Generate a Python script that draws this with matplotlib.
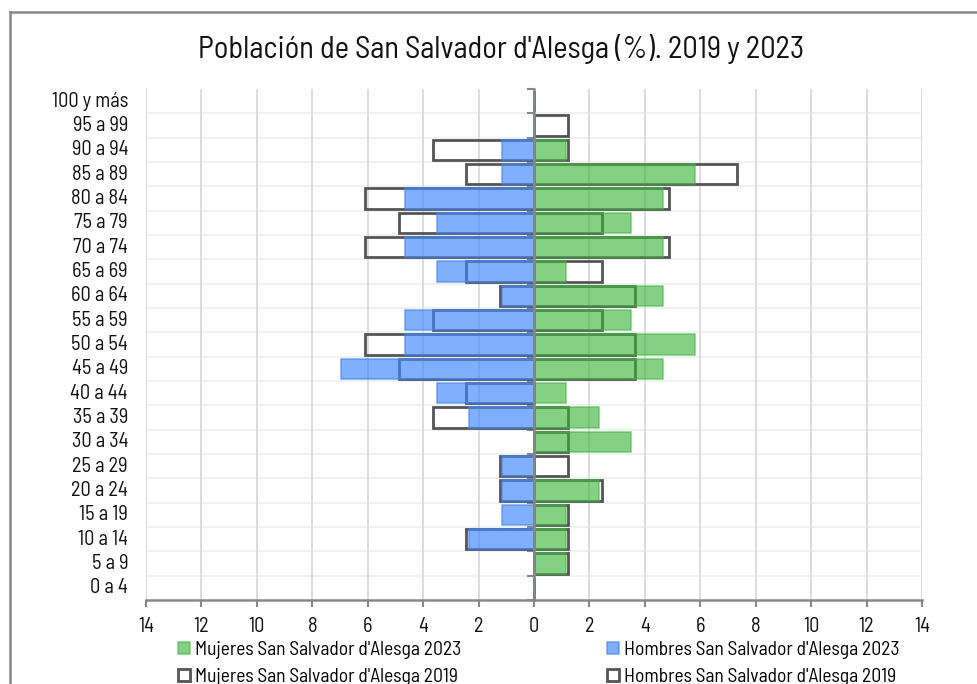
import matplotlib
matplotlib.use("Agg")
import matplotlib.pyplot as plt
from matplotlib.patches import Patch
from matplotlib.lines import Line2D
from matplotlib import font_manager as fm
from matplotlib.textpath import TextPath
import numpy as np

prefs = ['Barlow Semi Condensed', 'Ubuntu Condensed', 'Saira Semi Condensed',
         'Encode Sans Semi Condensed', 'IBM Plex Sans Condensed', 'Roboto Condensed',
         'Liberation Sans Narrow', 'DejaVu Sans']
avail = {f.name for f in fm.fontManager.ttflist}
FONT = next(p for p in prefs if p in avail)
plt.rcParams['font.family'] = [FONT, 'DejaVu Sans']

categories = ["100 y más", "95 a 99", "90 a 94", "85 a 89", "80 a 84", "75 a 79",
              "70 a 74", "65 a 69", "60 a 64", "55 a 59", "50 a 54", "45 a 49",
              "40 a 44", "35 a 39", "30 a 34", "25 a 29", "20 a 24", "15 a 19",
              "10 a 14", "5 a 9", "0 a 4"]

hombres_2023 = [0, 0, 1.16, 1.16, 4.65, 3.49, 4.65, 3.49, 1.16, 4.65, 4.65, 6.98,
                3.49, 2.33, 0, 1.16, 1.16, 1.16, 2.33, 0, 0]
mujeres_2023 = [0, 0, 1.16, 5.81, 4.65, 3.49, 4.65, 1.16, 4.65, 3.49, 5.81, 4.65,
                1.16, 2.33, 3.49, 0, 2.33, 1.16, 1.16, 1.16, 0]
hombres_2019 = [0, 0, 3.66, 2.44, 6.10, 4.88, 6.10, 2.44, 1.22, 3.66, 6.10, 4.88,
                2.44, 3.66, 0, 1.22, 1.22, 0, 2.44, 0, 0]
mujeres_2019 = [0, 1.22, 1.22, 7.32, 4.88, 2.44, 4.88, 2.44, 3.66, 2.44, 3.66, 3.66,
                0, 1.22, 1.22, 1.22, 2.44, 1.22, 1.22, 1.22, 0]

xticks = [-14, -12, -10, -8, -6, -4, -2, 0, 2, 4, 6, 8, 10, 12, 14]

title = "Población de San Salvador d'Alesga (%). 2019 y 2023"
lab_m23 = "Mujeres San Salvador d'Alesga 2023"
lab_h23 = "Hombres San Salvador d'Alesga 2023"
lab_m19 = "Mujeres San Salvador d'Alesga 2019"
lab_h19 = "Hombres San Salvador d'Alesga 2019"


def fit_size(text, target_px):
    fp = fm.FontProperties(family=[FONT, 'DejaVu Sans'])
    tp = TextPath((0, 0), text, size=10, prop=fp)
    ext = tp.get_extents()
    w_px_at10 = ext.width * 100 / 72
    return 10 * target_px / w_px_at10


title_fs = fit_size(title, 603)
cat_fs = fit_size("100 y más", 75)
leg_fs = fit_size(lab_m23, 264)
tick_fs = cat_fs

W, H = 977, 684
fig = plt.figure(figsize=(W / 100, H / 100), dpi=100)
ax = fig.add_axes([146 / W, 1 - 600 / H, 776 / W, 511 / H])

n = len(categories)
y = np.arange(n)[::-1]

blue = (0.24, 0.52, 1.0)
green = (0.20, 0.70, 0.20)
gray19 = '#555555'
bh = 0.84

ax.barh(y, [-v for v in hombres_2019], height=bh, left=0, facecolor='none',
        edgecolor=gray19, linewidth=2.0, zorder=3)
ax.barh(y, mujeres_2019, height=bh, left=0, facecolor='none',
        edgecolor=gray19, linewidth=2.0, zorder=3)
ax.barh(y, [-v for v in hombres_2023], height=bh, color=blue, alpha=0.65,
        edgecolor=blue, linewidth=1.2, zorder=4)
ax.barh(y, mujeres_2023, height=bh, color=green, alpha=0.6,
        edgecolor=(0.25, 0.72, 0.25), linewidth=1.2, zorder=4)

ax.set_xlim(-14, 14)
ax.set_ylim(-0.5, n - 0.5)

ax.set_xticks(xticks)
ax.set_xticklabels([str(abs(t)) for t in xticks], fontsize=tick_fs)
ax.tick_params(axis='x', length=5, width=1.5, color='#888888', pad=7, labelcolor='#111111')
ax.grid(axis='x', color='#dddddd', linewidth=1.4, zorder=0)

bounds = np.arange(-0.5, n, 1.0)
for b in bounds[1:-1]:
    ax.axhline(b, color='#efefef', linewidth=1.2, zorder=0)

for s in ['top', 'right']:
    ax.spines[s].set_visible(False)
ax.spines['bottom'].set_color('#888888')
ax.spines['bottom'].set_linewidth(1.8)
ax.spines['left'].set_position(('data', 0))
ax.spines['left'].set_color('#888888')
ax.spines['left'].set_linewidth(1.8)
ax.spines['left'].set_zorder(5)

ax.set_yticks(bounds)
ax.set_yticklabels([])
ax.tick_params(axis='y', length=5, width=1.5, color='#888888')

for yi, c in zip(y, categories):
    ax.text(-18 / 776, yi, c, transform=ax.get_yaxis_transform(), ha='right',
            va='center', fontsize=cat_fs, color='#111111')

fig.text(501 / W, 1 - 49 / H, title, ha='center', va='center', fontsize=title_fs, color='#111111')

fig.add_artist(Line2D([9.5 / W, 9.5 / W], [0, 1 - 12 / H], color='#888888', linewidth=1.8,
                      transform=fig.transFigure))
fig.add_artist(Line2D([9.5 / W, 1], [1 - 12 / H, 1 - 12 / H], color='#888888', linewidth=1.8,
                      transform=fig.transFigure))

h_m23 = Patch(facecolor=green, alpha=0.6, edgecolor=(0.25, 0.72, 0.25), linewidth=1.2)
h_h23 = Patch(facecolor=blue, alpha=0.65, edgecolor=blue, linewidth=1.2)
h_m19 = Patch(facecolor='none', edgecolor=gray19, linewidth=2.0)
h_h19 = Patch(facecolor='none', edgecolor=gray19, linewidth=2.0)

common = dict(frameon=False, fontsize=leg_fs, handlelength=0.6, handleheight=0.6,
              handletextpad=0.25, labelspacing=0.45, borderpad=0, borderaxespad=0,
              loc='upper left')
fig.legend([h_m23, h_m19], [lab_m23, lab_m19], bbox_to_anchor=(178 / W, 1 - 641 / H), **common)
fig.legend([h_h23, h_h19], [lab_h23, lab_h19], bbox_to_anchor=(607 / W, 1 - 641 / H), **common)

fig.savefig("out.png", dpi=100, facecolor='white')
